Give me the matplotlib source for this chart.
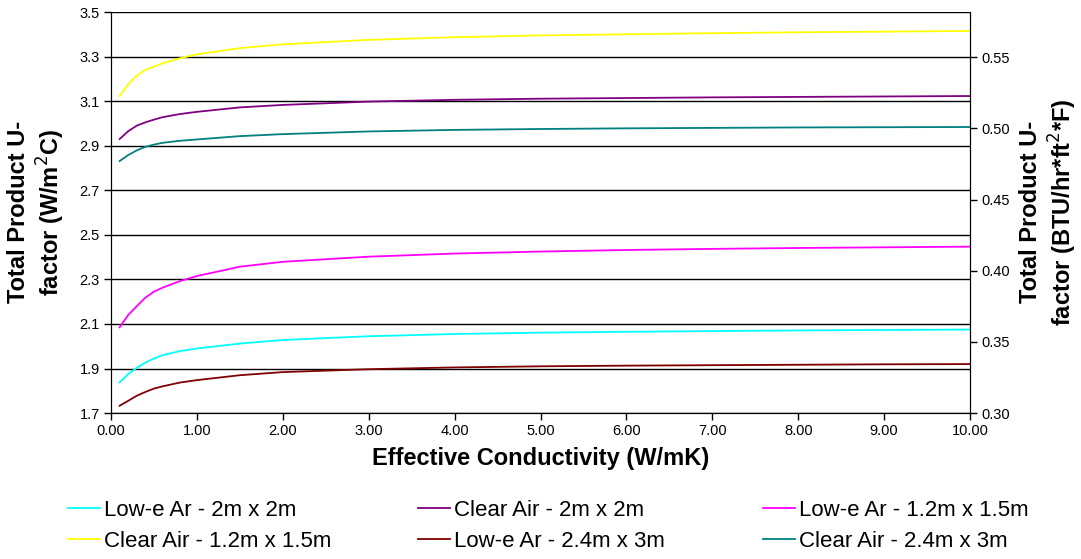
import matplotlib
matplotlib.use("Agg")
import matplotlib.pyplot as plt
from matplotlib.ticker import FormatStrFormatter

plt.rcParams['font.family'] = ['Liberation Sans', 'DejaVu Sans']

# effective conductivity (W/mK)
k = [0.1, 0.2, 0.3, 0.4, 0.5, 0.6, 0.8, 1.0, 1.5, 2.0, 3.0, 4.0, 5.0, 6.0, 7.0, 8.0, 9.0, 10.0]

# total product U-factor (W/m2C)
lowe_2x2 = [1.838, 1.875, 1.903, 1.927, 1.945, 1.960, 1.978, 1.990, 2.012, 2.028, 2.045,
            2.055, 2.061, 2.065, 2.068, 2.071, 2.073, 2.075]
clear_2x2 = [2.930, 2.965, 2.990, 3.005, 3.017, 3.028, 3.042, 3.052, 3.072, 3.083, 3.098,
             3.106, 3.111, 3.114, 3.117, 3.119, 3.121, 3.123]
lowe_12x15 = [2.085, 2.140, 2.180, 2.218, 2.245, 2.263, 2.292, 2.315, 2.357, 2.379, 2.402,
              2.416, 2.425, 2.432, 2.437, 2.441, 2.444, 2.447]
clear_12x15 = [3.123, 3.175, 3.215, 3.240, 3.255, 3.270, 3.292, 3.310, 3.338, 3.355, 3.375,
               3.387, 3.395, 3.400, 3.405, 3.409, 3.412, 3.415]
lowe_24x3 = [1.733, 1.755, 1.778, 1.795, 1.810, 1.820, 1.837, 1.848, 1.870, 1.884, 1.897,
             1.905, 1.910, 1.913, 1.915, 1.917, 1.919, 1.920]
clear_24x3 = [2.831, 2.858, 2.879, 2.895, 2.905, 2.913, 2.922, 2.928, 2.943, 2.952, 2.964,
              2.971, 2.975, 2.978, 2.980, 2.982, 2.983, 2.984]

x_ticks = [0, 1, 2, 3, 4, 5, 6, 7, 8, 9, 10]
si_ticks = [1.7, 1.9, 2.1, 2.3, 2.5, 2.7, 2.9, 3.1, 3.3, 3.5]
ip_ticks = [0.30, 0.35, 0.40, 0.45, 0.50, 0.55]
ip_range = (0.30, 0.5817)

fig = plt.figure(figsize=(10.81, 5.59), dpi=100)
ax = fig.add_axes([0.1027, 0.261, 0.7946, 0.7175])

l1, = ax.plot(k, lowe_2x2, color='#00FFFF', lw=1.3)
l2, = ax.plot(k, clear_2x2, color='#800080', lw=1.3)
l3, = ax.plot(k, lowe_12x15, color='#FF00FF', lw=1.3)
l4, = ax.plot(k, clear_12x15, color='#FFFF00', lw=1.3)
l5, = ax.plot(k, lowe_24x3, color='#800000', lw=1.3)
l6, = ax.plot(k, clear_24x3, color='#008080', lw=1.3)

ax.set_xlim(0, 10)
ax.set_ylim(1.7, 3.5)
ax.set_xticks(x_ticks)
ax.set_yticks(si_ticks)
ax.xaxis.set_major_formatter(FormatStrFormatter('%.2f'))
ax.yaxis.set_major_formatter(FormatStrFormatter('%.1f'))
ax.grid(axis='y', color='black', lw=1)
ax.set_axisbelow(True)
ax.spines['top'].set_visible(False)
ax.tick_params(labelsize=10.5, direction='out', length=5, width=1, pad=3)
ax.set_xlabel('Effective Conductivity (W/mK)', fontsize=17, fontweight='bold', labelpad=6)

ax2 = ax.twinx()
ax2.set_ylim(*ip_range)
ax2.set_yticks(ip_ticks)
ax2.yaxis.set_major_formatter(FormatStrFormatter('%.2f'))
ax2.spines['top'].set_visible(False)
ax2.tick_params(labelsize=10.5, direction='out', length=5, width=1, pad=3)

# axis titles placed as text so they sit where the original has them
ycen = 1 - 212 / 559
fig.text(37 / 1081, ycen, 'Total Product U-\nfactor (W/m$^2$C)', fontsize=17,
         fontweight='bold', rotation=90, ha='center', va='center', multialignment='center')
fig.text(1049 / 1081, ycen, 'Total Product U-\nfactor (BTU/hr*ft$^2$*F)', fontsize=17,
         fontweight='bold', rotation=90, ha='center', va='center', multialignment='center')

# three legend columns, placed like the original
cols = [([l1, l4], ['Low-e Ar - 2m x 2m', 'Clear Air - 1.2m x 1.5m'], 68),
        ([l2, l5], ['Clear Air - 2m x 2m', 'Low-e Ar - 2.4m x 3m'], 418),
        ([l3, l6], ['Low-e Ar - 1.2m x 1.5m', 'Clear Air - 2.4m x 3m'], 763)]
for handles, labels, xpix in cols:
    leg = fig.legend(handles, labels, loc='upper left',
                     bbox_to_anchor=(xpix / 1081, 1 - 500 / 559),
                     frameon=False, fontsize=16, handlelength=1.45, handletextpad=0.15,
                     labelspacing=0.45, borderpad=0, borderaxespad=0)

fig.savefig('out.png', dpi=100)
